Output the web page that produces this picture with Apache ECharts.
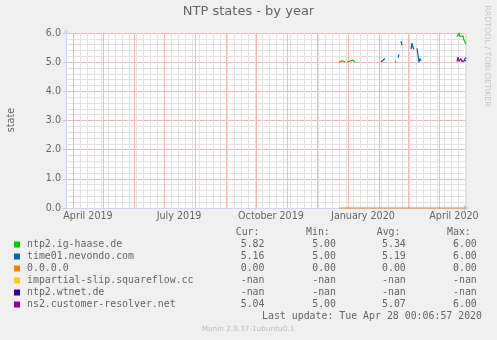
<!DOCTYPE html>
<html>
<head>
<meta charset="utf-8">
<script src="https://cdn.jsdelivr.net/npm/echarts@6/dist/echarts.min.js"></script>
<style>
  html, body { margin: 0; padding: 0; background: #f0f0f0; }
  #chart { width: 497px; height: 340px; }
</style>
</head>
<body>
<div id="chart"></div>
<script>
// ---- data ---------------------------------------------------------------
const seriesNames = [
  'ntp2.ig-haase.de',
  'time01.nevondo.com',
  '0.0.0.0',
  'impartial-slip.squareflow.cc',
  'ntp2.wtnet.de',
  'ns2.customer-resolver.net'
];
const seriesColors = ['#00cc00', '#0066b3', '#ff8000', '#ffcc00', '#330099', '#990099'];

// Daily averages; each entry is a run of consecutive days starting at the given date.
const igHaaseRuns = [
  ['2019-12-23', [5.00, 5.04, 5.02, 5.05, 5.02, 5.00, 5.01]],
  ['2019-12-31', [5.00, 5.03, 5.06, 5.04, 5.02, 5.05, 5.07, 5.03, 5.00]],
  ['2020-04-19', [5.87, 5.92, 6.00, 5.88, 5.82, 5.93, 5.90, 5.76, 5.68, 5.62]]
];
const nevondoRuns = [
  ['2020-02-03', [5.00, 5.05, 5.02, 5.10, 5.13]],
  ['2020-02-17', [5.00, 5.02]],
  ['2020-02-20', [5.15, 5.27]],
  ['2020-02-23', [5.72, 5.58]],
  ['2020-03-04', [5.45, 5.65, 5.50, 5.45]],
  ['2020-03-10', [5.47, 5.25, 5.00, 5.12, 5.05]],
  ['2020-04-26', [5.08, 5.14, 5.16]]
];
const zeroAddrRuns = [
  ['2019-12-23', [0, 0, 0, 0, 0, 0, 0, 0, 0]],
  ['2020-01-01', [0, 0, 0, 0, 0, 0, 0, 0, 0, 0, 0, 0, 0, 0, 0, 0, 0, 0, 0, 0, 0, 0, 0, 0, 0, 0, 0, 0, 0, 0, 0]],
  ['2020-02-01', [0, 0, 0, 0, 0, 0, 0, 0, 0, 0, 0, 0, 0, 0, 0, 0, 0, 0, 0, 0, 0, 0, 0, 0, 0, 0, 0, 0, 0]],
  ['2020-03-01', [0, 0, 0, 0, 0, 0, 0, 0, 0, 0, 0, 0, 0, 0, 0, 0, 0, 0, 0, 0, 0, 0, 0, 0, 0, 0, 0, 0, 0, 0, 0]],
  ['2020-04-01', [0, 0, 0, 0, 0, 0, 0, 0, 0, 0, 0, 0, 0, 0, 0, 0, 0, 0, 0, 0, 0, 0, 0, 0, 0, 0, 0, 0]]
];
const squareflowRuns = [];
const wtnetRuns = [];
const customerResolverRuns = [
  ['2020-04-19', [5.02, 5.17, 5.03, 5.00, 5.12, 5.02, 5.04, 5.01, 5.06, 5.04]]
];
const allRuns = [igHaaseRuns, nevondoRuns, zeroAddrRuns, squareflowRuns, wtnetRuns, customerResolverRuns];

// Summary table (null = -nan)
const curValues = [5.82, 5.16, 0.00, null, null, 5.04];
const minValues = [5.00, 5.00, 0.00, null, null, 5.00];
const avgValues = [5.34, 5.19, 0.00, null, null, 5.07];
const maxValues = [6.00, 6.00, 0.00, null, null, 6.00];

// Axis range, grid and labels
const rangeStart = '2019-03-25 00:00';   // a Monday: weekly grid counts from here
const rangeEnd = '2020-04-28 00:00';
const monthStarts = ['2019-04-01', '2019-05-01', '2019-06-01', '2019-07-01', '2019-08-01', '2019-09-01',
  '2019-10-01', '2019-11-01', '2019-12-01', '2020-01-01', '2020-02-01', '2020-03-01', '2020-04-01'];
const xLabelDates = ['2019-04-16', '2019-07-16', '2019-10-16', '2020-01-16', '2020-04-16'];
const xLabelTexts = ['April 2019', 'July 2019', 'October 2019', 'January 2020', 'April 2020'];
const yTicks = [0, 1, 2, 3, 4, 5, 6];

const lastUpdate = 'Last update: Tue Apr 28 00:06:57 2020';
const footer = 'Munin 2.0.37-1ubuntu0.1';

// ---- helpers ------------------------------------------------------------
const DAY = 86400000;
function toTime(s) {
  const [d, t] = s.split(' ');
  const [y, m, day] = d.split('-').map(Number);
  const [hh, mm] = (t || '00:00').split(':').map(Number);
  return new Date(y, m - 1, day, hh, mm).getTime();
}
// expand runs into [time, value] points, with a null where days are missing
function expandRuns(runs) {
  const out = [];
  let last = null;
  runs.forEach(([start, vals]) => {
    const [y, m, d] = start.split('-').map(Number);
    const first = new Date(y, m - 1, d).getTime();
    if (last !== null && first - last > 1.5 * DAY) {
      out.push([last + DAY, null]);
    }
    vals.forEach((v, i) => {
      const t = new Date(y, m - 1, d + i).getTime();
      out.push([t, v]);
      last = t;
    });
  });
  return out;
}
function fmt(v) { return v === null ? '-nan' : v.toFixed(2); }

const xMin = toTime(rangeStart);
const xMax = toTime(rangeEnd);
const monthTicks = monthStarts.map(toTime);
const labelTicks = xLabelDates.map(toTime);

// ---- chart --------------------------------------------------------------
const FONT = 'DejaVu Sans';
const MONO = 'DejaVu Sans Mono';
const TEXT = '#666666';
const AXIS = '#cfd6f8';
const GRID = '#e3e3e3';
const MGRID = '#f3b9b9';

const chart = echarts.init(document.getElementById('chart'), null, { renderer: 'canvas' });

const rowTop = 244.5, rowH = 12;
const colRight = [264.5, 336, 405.8, 476.8];
const colHead = [['Cur:', 235.7], ['Min:', 306], ['Avg:', 376.7], ['Max:', 447]];
const cols = [curValues, minValues, avgValues, maxValues];

const graphics = [];
colHead.forEach(([t, x]) => graphics.push({
  type: 'text', x: x, y: 232.5, silent: true,
  style: { text: t, font: '9.9px "' + MONO + '"', fill: TEXT, align: 'left', verticalAlign: 'middle' }
}));
cols.forEach((arr, c) => arr.forEach((v, r) => graphics.push({
  type: 'text', x: colRight[c], y: rowTop + r * rowH, silent: true,
  style: { text: fmt(v), font: '9.9px "' + MONO + '"', fill: TEXT, align: 'right', verticalAlign: 'middle' }
})));
graphics.push({
  type: 'text', x: 482, y: 316.7, silent: true,
  style: { text: lastUpdate, font: '9.9px "' + MONO + '"', fill: TEXT, align: 'right', verticalAlign: 'middle' }
});
graphics.push({
  type: 'text', x: 248, y: 328.7, silent: true,
  style: { text: footer, font: '7.3px "' + FONT + '"', fill: '#c0c0c0', align: 'center', verticalAlign: 'middle' }
});
graphics.push({
  type: 'text', x: 487.5, y: 56, rotation: -Math.PI / 2, silent: true,
  style: { text: 'RRDTOOL / TOBI OETIKER', font: '7.9px "' + FONT + '"', fill: '#c8c8c8', align: 'center', verticalAlign: 'middle' }
});
graphics.push({
  type: 'text', x: 11, y: 120, rotation: Math.PI / 2, silent: true,
  style: { text: 'state', font: '9.6px "' + FONT + '"', fill: TEXT, align: 'center', verticalAlign: 'middle' }
});

const dataSeries = seriesNames.map((name, i) => ({
  name: name,
  type: 'line',
  xAxisIndex: 0,
  data: expandRuns(allRuns[i]),
  showSymbol: false,
  symbol: 'none',
  connectNulls: false,
  clip: false,
  color: seriesColors[i],
  lineStyle: { color: seriesColors[i], width: 1.2 },
  z: 6
}));

// monthly major grid lines, placed on the data axis as vertical mark lines
dataSeries[2].markLine = {
  silent: true, animation: false, z: 2,
  symbol: ['none', 'none'],
  label: { show: false },
  emphasis: { disabled: true },
  lineStyle: { color: MGRID, width: 1, type: 'solid' },
  data: monthTicks.map((t) => ({ xAxis: t }))
};

const option = {
  backgroundColor: '#f0f0f0',
  animation: false,
  title: {
    text: 'NTP states - by year',
    left: 'center', top: 5.5, padding: 0,
    textStyle: { fontFamily: FONT, fontSize: 13, fontWeight: 'normal', color: TEXT }
  },
  grid: {
    left: 66, right: 31, top: 33, bottom: 132,
    show: true, backgroundColor: '#ffffff', borderWidth: 0
  },
  legend: {
    orient: 'vertical', left: 14, top: rowTop - rowH / 2, padding: 0,
    itemWidth: 6, itemHeight: 6, itemGap: 0, icon: 'rect', selectedMode: false,
    data: seriesNames,
    textStyle: { fontFamily: MONO, fontSize: 9.9, color: TEXT, lineHeight: rowH, padding: [0, 0, 0, 2] }
  },
  xAxis: [
    {
      // data axis: carries the series, the axis line and the month labels
      type: 'value', min: xMin, max: xMax, z: 4,
      axisLine: {
        show: true, lineStyle: { color: AXIS, width: 1 },
        symbol: ['none', 'arrow'], symbolSize: [6, 6], symbolOffset: [0, 3]
      },
      axisTick: { show: false },
      axisLabel: {
        show: true, customValues: labelTicks, margin: 3,
        fontFamily: FONT, fontSize: 9.6, color: TEXT,
        formatter: (v) => {
          const i = labelTicks.indexOf(v);
          return i >= 0 ? xLabelTexts[i] : '';
        }
      },
      splitLine: { show: false }
    },
    {
      // weekly minor grid, counted in ms from the Monday at the left edge
      type: 'value', min: 0, max: xMax - xMin, interval: 7 * DAY,
      axisLine: { show: false }, axisTick: { show: false }, axisLabel: { show: false },
      splitLine: { show: true, lineStyle: { color: GRID, width: 1, type: 'solid' } }
    }
  ],
  yAxis: {
    type: 'value', min: yTicks[0], max: yTicks[yTicks.length - 1], interval: 1,
    axisLine: {
      show: true, lineStyle: { color: AXIS, width: 1 },
      symbol: ['none', 'arrow'], symbolSize: [6, 6], symbolOffset: [0, 4]
    },
    axisTick: { show: true, length: 3, lineStyle: { color: MGRID } },
    minorTick: { show: false, splitNumber: 5 },
    axisLabel: {
      margin: 5, fontFamily: FONT, fontSize: 9.6, color: TEXT,
      formatter: (v) => v.toFixed(1)
    },
    splitLine: { show: true, lineStyle: { color: MGRID, width: 1, type: 'solid' } },
    minorSplitLine: { show: true, lineStyle: { color: GRID, width: 1, type: 'solid' } }
  },
  series: dataSeries,
  graphic: graphics
};

chart.setOption(option);
</script>
</body>
</html>
